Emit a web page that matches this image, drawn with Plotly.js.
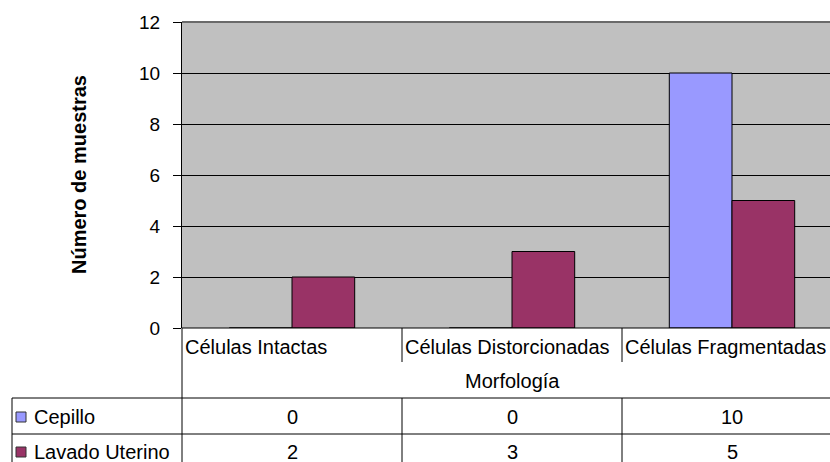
<!DOCTYPE html>
<html>
<head>
<meta charset="utf-8">
<script src="https://cdn.plot.ly/plotly-3.0.1.min.js"></script>
<style>html,body{margin:0;padding:0;background:#fff;overflow:hidden}</style>
</head>
<body>
<div id="chart" style="width:830px;height:462px"></div>
<script>
var categories = ['Células Intactas', 'Células Distorcionadas', 'Células Fragmentadas'];
var seriesNames = ['Cepillo', 'Lavado Uterino'];
var cepillo = [0, 0, 10];
var lavado = [2, 3, 5];
var yTitle = 'Número de muestras';
var xTitle = 'Morfología';

var colors = ['#9999FF', '#993366'];
var seriesValues = [cepillo, lavado];
var FONT = 'Arial, "Liberation Sans", sans-serif';
var FS = 20;

// geometry helpers (pixels -> paper)
var L = 182, T = 22, PW = 648, PH = 306;
function py(p) { return (T + PH - p) / PH; }
function px(p) { return (p - L) / PW; }

var idx = categories.map(function (c, i) { return i; });

var traces = seriesNames.map(function (name, s) {
  return {
    type: 'bar', name: name, x: idx, y: seriesValues[s],
    marker: { color: colors[s], line: { color: '#000', width: 1 } },
    hoverinfo: 'none'
  };
});

var shapes = [];
var annotations = [];
var bottom = py(470);

// top border of plot area
shapes.push({ type: 'line', xref: 'paper', yref: 'paper', x0: 0, x1: 1, y0: 1, y1: 1, line: { color: '#6a6a6a', width: 2 } });
// x axis base line
shapes.push({ type: 'line', xref: 'paper', yref: 'paper', x0: 0, x1: 1, y0: 0, y1: 0, line: { color: '#000', width: 1 } });
// left line extended down through the table
shapes.push({ type: 'line', xref: 'paper', yref: 'paper', x0: 0, x1: 0, y0: 0, y1: bottom, line: { color: '#000', width: 1 } });
// category separators in the label row and in the table rows
for (var i = 0; i < categories.length - 1; i++) {
  shapes.push({ type: 'line', xref: 'x', yref: 'paper', x0: i + 0.5, x1: i + 0.5, y0: 0, y1: py(362), line: { color: '#000', width: 1 } });
  shapes.push({ type: 'line', xref: 'x', yref: 'paper', x0: i + 0.5, x1: i + 0.5, y0: py(398), y1: bottom, line: { color: '#000', width: 1 } });
}
// table horizontal lines
[398, 434].forEach(function (p) {
  shapes.push({ type: 'line', xref: 'paper', yref: 'paper', x0: px(12), x1: 1.05, y0: py(p), y1: py(p), line: { color: '#000', width: 1 } });
});
// table left border
shapes.push({ type: 'line', xref: 'paper', yref: 'paper', x0: px(12), x1: px(12), y0: py(398), y1: bottom, line: { color: '#000', width: 1 } });

// category labels
categories.forEach(function (c, i) {
  annotations.push({ xref: 'x', yref: 'paper', x: i - 0.495, y: py(347), xanchor: 'left', yanchor: 'middle', text: c, showarrow: false, font: { family: FONT, size: FS, color: '#000' } });
});
// x title
annotations.push({ xref: 'x', yref: 'paper', x: (categories.length - 1) / 2, y: py(381), xanchor: 'center', yanchor: 'middle', text: xTitle, showarrow: false, font: { family: FONT, size: FS, color: '#000' } });
// y title
annotations.push({ xref: 'paper', yref: 'paper', x: px(79), y: py(174), xanchor: 'center', yanchor: 'middle', textangle: -90, text: '<b>' + yTitle + '</b>', showarrow: false, font: { family: FONT, size: FS, color: '#000' } });

// table rows
var rowCenters = [417, 452];
seriesNames.forEach(function (name, s) {
  var yc = py(rowCenters[s]);
  shapes.push({ type: 'rect', xref: 'paper', yref: 'paper', x0: px(16), x1: px(26), y0: py(rowCenters[s] - 5), y1: py(rowCenters[s] + 5), fillcolor: colors[s], line: { color: '#333', width: 1 } });
  annotations.push({ xref: 'paper', yref: 'paper', x: px(32), y: yc, xanchor: 'left', yanchor: 'middle', text: name, showarrow: false, font: { family: FONT, size: FS, color: '#000' } });
  seriesValues[s].forEach(function (v, i) {
    annotations.push({ xref: 'x', yref: 'paper', x: i, y: yc, xanchor: 'center', yanchor: 'middle', text: String(v), showarrow: false, font: { family: FONT, size: FS, color: '#000' } });
  });
});

var layout = {
  width: 830, height: 462,
  margin: { l: L, r: 830 - L - PW, t: T, b: 462 - T - PH, pad: 0 },
  paper_bgcolor: '#fff', plot_bgcolor: '#C0C0C0',
  showlegend: false,
  barmode: 'group', bargap: 0.43, bargroupgap: 0,
  xaxis: { range: [-0.5, -0.5 + PW / 220], showticklabels: false, ticks: '', showgrid: false, zeroline: false, showline: false, fixedrange: true },
  yaxis: { range: [0, 12], dtick: 2, tick0: 0, showgrid: true, gridcolor: '#000', gridwidth: 1, zeroline: false,
    showline: true, linecolor: '#000', linewidth: 1, ticks: 'outside', ticklen: 8, tickcolor: '#000',
    ticklabelstandoff: 9,
    tickfont: { family: FONT, size: 19, color: '#000' }, fixedrange: true },
  shapes: shapes,
  annotations: annotations,
  font: { family: FONT }
};

Plotly.newPlot('chart', traces, layout, { staticPlot: true, displayModeBar: false });
</script>
</body>
</html>
